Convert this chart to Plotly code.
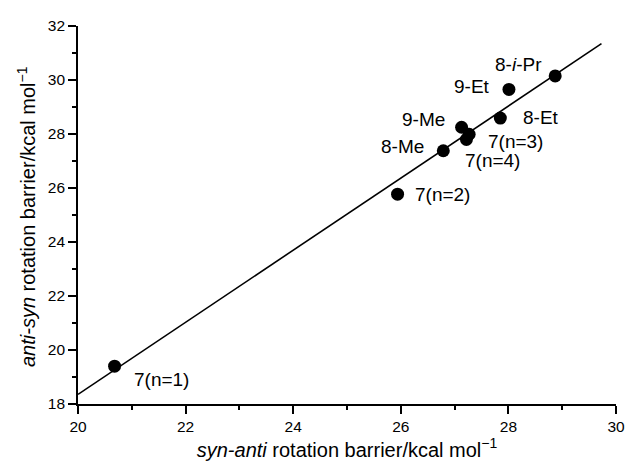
import numpy as np
import plotly.graph_objects as go

# data
labels = ["7(n=1)", "7(n=2)", "8-Me", "9-Me", "7(n=3)", "7(n=4)", "8-Et", "9-Et", "8-<i>i</i>-Pr"]
syn_anti = [20.68, 25.94, 26.79, 27.13, 27.27, 27.22, 27.85, 28.01, 28.87]
anti_syn = [19.40, 25.77, 27.38, 28.25, 27.99, 27.80, 28.59, 29.65, 30.15]
fit_x_range = [20.0, 29.73]

x_ticks = [20, 22, 24, 26, 28, 30]
y_ticks = [18, 20, 22, 24, 26, 28, 30, 32]

x_title = "<i>syn-anti</i> rotation barrier/kcal mol<sup>\u22121</sup>"
y_title = "<i>anti-syn</i> rotation barrier/kcal mol<sup>\u22121</sup>"

# label offsets in pixels (dx right, dy down) - styling only
label_offsets = [(47, 13), (45, 0), (-41, -4), (-38, -8), (46, 7), (26, 21), (41, -1), (-37, -3), (-37, -11)]

FONT = "Liberation Sans, Arial, Helvetica, sans-serif"

slope, intercept = np.polyfit(syn_anti, anti_syn, 1)
fx = np.array(fit_x_range)
fy = slope * fx + intercept

fig = go.Figure()
fig.add_trace(go.Scatter(x=fx, y=fy, mode="lines",
                         line=dict(color="black", width=1.6),
                         hoverinfo="skip", showlegend=False))
fig.add_trace(go.Scatter(x=syn_anti, y=anti_syn, mode="markers",
                         marker=dict(color="black", size=13),
                         showlegend=False))

for lab, xv, yv, (dx, dy) in zip(labels, syn_anti, anti_syn, label_offsets):
    fig.add_annotation(x=xv, y=yv, text=lab, showarrow=False,
                       xshift=dx, yshift=-dy, xanchor="center", yanchor="middle",
                       font=dict(family=FONT, size=19, color="black"))

# y-axis title as a rotated annotation for precise placement
fig.add_annotation(xref="paper", yref="paper", x=0, y=0.5, text=y_title,
                   textangle=-90, showarrow=False, xanchor="center", yanchor="middle",
                   xshift=-52, yshift=-2,
                   font=dict(family=FONT, size=20, color="black"))

axis_common = dict(
    showline=True, linecolor="black", linewidth=1.6, mirror=False,
    ticks="outside", ticklen=8, tickwidth=1.6, tickcolor="black",
    showgrid=False, zeroline=False,
    tickfont=dict(family=FONT, size=15.5, color="black"),
    minor=dict(ticks="outside", ticklen=4, tickwidth=1.6, tickcolor="black", dtick=1, showgrid=False),
)

fig.update_xaxes(range=[20, 30], tickvals=x_ticks, ticktext=[str(v) for v in x_ticks],
                 title=dict(text=x_title,
                            font=dict(family=FONT, size=20, color="black"), standoff=1),
                 **axis_common)
fig.update_yaxes(range=[18, 32], tickvals=y_ticks, ticktext=[str(v) for v in y_ticks],
                 **axis_common)

# page body has an 8px margin, so the figure is sized to fit the 634x466 window
fig.update_layout(
    width=626, height=458,
    margin=dict(l=70, r=9, t=16, b=62),
    plot_bgcolor="white", paper_bgcolor="white",
    font=dict(family=FONT, color="black"),
)

fig.write_html("out.html")
